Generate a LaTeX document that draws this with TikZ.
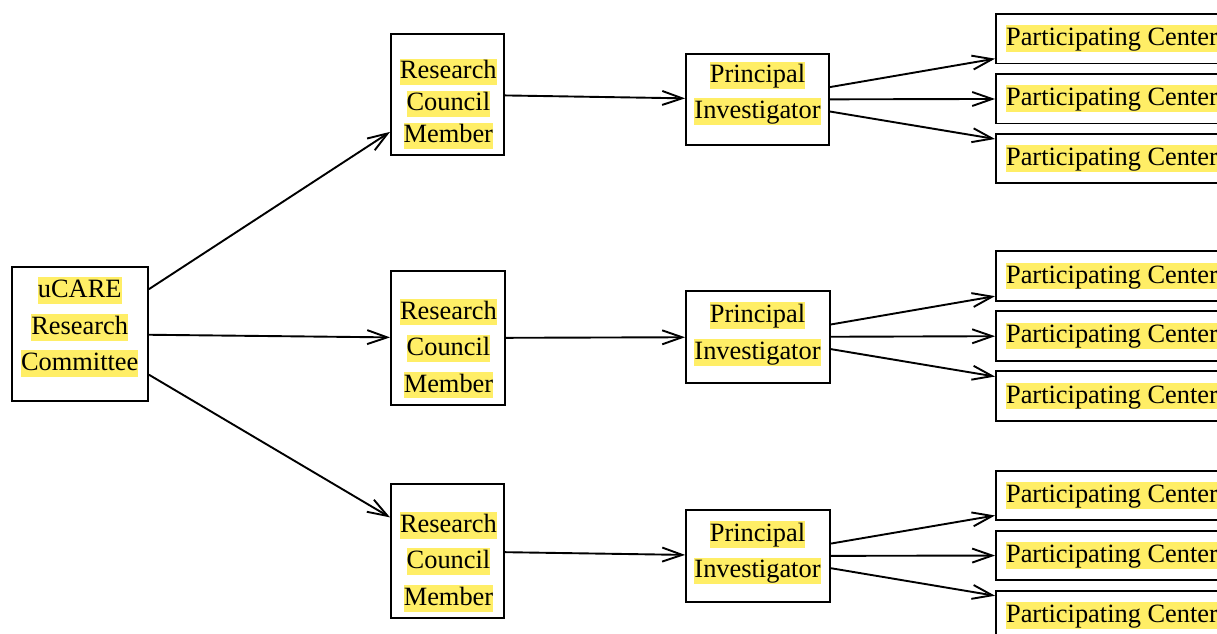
\documentclass[tikz,border=0pt]{standalone}
\usepackage{fontspec}
\setmainfont{Liberation Serif}
\usetikzlibrary{arrows.meta}
\definecolor{hly}{RGB}{255,238,102}
\newcommand\hlw[1]{{\setlength{\fboxsep}{0pt}\colorbox{hly}{\rule[-6.3pt]{0pt}{26.6pt}#1}}}
\begin{document}
\begin{tikzpicture}[x=1pt,y=-1pt,
  box/.style={draw, line width=1.9pt, inner sep=0pt, rectangle},
  txt/.style={inner sep=0pt, align=center, font=\fontsize{26.4}{36.5}\selectfont},
  pc/.style={box, minimum width=232pt, minimum height=49.5pt, font=\fontsize{26.4}{30}\selectfont},
  arr/.style={line width=1.9pt, -{Straight Barb[length=20pt,width=14pt]}}]
\useasboundingbox (0,0) rectangle (1217,633);
\clip (0,0) rectangle (1217,633);
% root
\node[box, minimum width=136pt, minimum height=134pt] (uc) at (80,334) {};
\node[txt] (tuc) at (79.7,327.2) {\hlw{uCARE}\\\hlw{Research}\\\hlw{Committee}};
% research council members
\node[box, minimum width=113pt, minimum height=121pt] (rc1) at (447.5,94.5) {};
\node[txt, font=\fontsize{26.4}{32}\selectfont] (trc1) at (448.3,103.8) {\hlw{Research}\\\hlw{Council}\\\hlw{Member}};
\node[box, minimum width=114pt, minimum height=134pt] (rc2) at (448,338) {};
\node[txt] (trc2) at (448.5,348.5) {\hlw{Research}\\\hlw{Council}\\\hlw{Member}};
\node[box, minimum width=113pt, minimum height=134pt] (rc3) at (447.5,551.3) {};
\node[txt] (trc3) at (448.5,561.7) {\hlw{Research}\\\hlw{Council}\\\hlw{Member}};
% principal investigators
\node[box, minimum width=143pt, minimum height=91pt] (pi1) at (757.5,99.5) {};
\node[txt] (tpi1) at (757.5,93.5) {\hlw{Principal}\\\hlw{Investigator}};
\node[box, minimum width=144pt, minimum height=92pt] (pi2) at (758,337) {};
\node[txt] (tpi2) at (757.5,334) {\hlw{Principal}\\\hlw{Investigator}};
\node[box, minimum width=144pt, minimum height=92pt] (pi3) at (758,556) {};
\node[txt] (tpi3) at (757.5,552.7) {\hlw{Principal}\\\hlw{Investigator}};
% participating centers
\node[pc] (c11) at (1112,38.7) {\hlw{Participating Center}};
\node[pc] (c12) at (1112,98.7) {\hlw{Participating Center}};
\node[pc] (c13) at (1112,158.3) {\hlw{Participating Center}};
\node[pc] (c21) at (1112,276) {\hlw{Participating Center}};
\node[pc] (c22) at (1112,335.8) {\hlw{Participating Center}};
\node[pc] (c23) at (1112,396) {\hlw{Participating Center}};
\node[pc] (c31) at (1112,495.5) {\hlw{Participating Center}};
\node[pc] (c32) at (1112,555.3) {\hlw{Participating Center}};
\node[pc] (c33) at (1112,615.3) {\hlw{Participating Center}};
% connectors
\draw[arr] (uc) -- (rc1);
\draw[arr] (uc) -- (rc2);
\draw[arr] (uc) -- (rc3);
\draw[arr] (rc1) -- (pi1);
\draw[arr] (rc2) -- (pi2);
\draw[arr] (rc3) -- (pi3);
\foreach \p/\c in {1/1,1/2,1/3,2/1,2/2,2/3,3/1,3/2,3/3}
  \draw[arr] (pi\p) -- (c\p\c);
\end{tikzpicture}
\end{document}
